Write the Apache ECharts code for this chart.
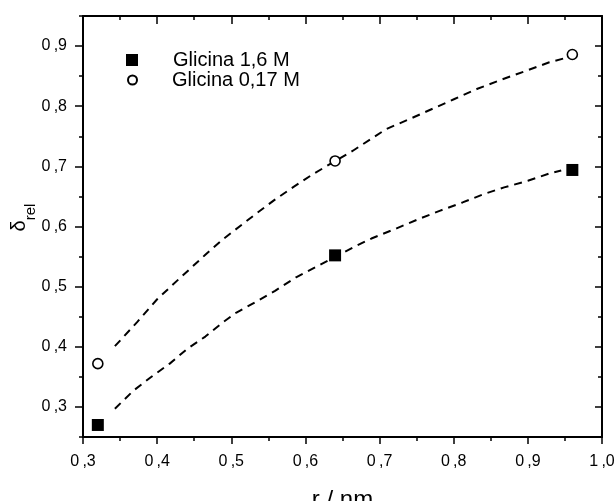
<!DOCTYPE html>
<html><head><meta charset="utf-8">
<script src="https://cdn.jsdelivr.net/npm/echarts@6/dist/echarts.min.js"></script>
<style>html,body{margin:0;padding:0;background:#fff}#c{width:616px;height:501px}</style>
</head><body><div id="c"></div>
<script>
// tick values
const xMajor = [0.3, 0.4, 0.5, 0.6, 0.7, 0.8, 0.9, 1.0];
const xMinor = [0.35, 0.45, 0.55, 0.65, 0.75, 0.85, 0.95];
const yMajor = [0.3, 0.4, 0.5, 0.6, 0.7, 0.8, 0.9];
const yMinor = [0.25, 0.35, 0.45, 0.55, 0.65, 0.75, 0.85, 0.95];

// measured points
const seriesNames = ['Glicina 1,6 M', 'Glicina 0,17 M'];
const rHigh = [0.32, 0.64, 0.96];
const deltaHigh = [0.270, 0.552, 0.694];
const rLow = [0.32, 0.64, 0.96];
const deltaLow = [0.372, 0.709, 0.886];

// fitted (dashed) curves
const fitHighR = [0.343, 0.368, 0.391, 0.417, 0.440, 0.465, 0.489, 0.507, 0.532, 0.559, 0.588, 0.613, 0.669, 0.689, 0.723, 0.752, 0.781, 0.812, 0.841, 0.868, 0.900, 0.931, 0.945];
const fitHighDelta = [0.297, 0.327, 0.349, 0.372, 0.396, 0.417, 0.441, 0.457, 0.474, 0.493, 0.516, 0.532, 0.568, 0.580, 0.597, 0.612, 0.626, 0.640, 0.654, 0.665, 0.676, 0.689, 0.693];
const fitLowR = [0.343, 0.373, 0.400, 0.427, 0.465, 0.489, 0.530, 0.557, 0.583, 0.610, 0.664, 0.709, 0.741, 0.772, 0.801, 0.832, 0.864, 0.898, 0.929, 0.950];
const fitLowDelta = [0.401, 0.441, 0.479, 0.510, 0.553, 0.579, 0.618, 0.643, 0.665, 0.687, 0.726, 0.762, 0.779, 0.796, 0.812, 0.829, 0.844, 0.859, 0.873, 0.880];

const zip = (a, b) => a.map((v, i) => [v, b[i]]);
const FONT = '"Liberation Sans", Arial, sans-serif';
const fmt = v => v.toFixed(1).replace('.', '\u2009,');
const black = '#000';

function axisBase(extra) {
  return Object.assign({
    type: 'value', splitLine: { show: false },
    axisLine: { show: false, onZero: false, lineStyle: { color: black, width: 2 } },
    axisTick: { show: true, lineStyle: { color: black, width: 1.5 } },
    axisLabel: { show: false }
  }, extra);
}
const mainLine = { show: true, onZero: false, lineStyle: { color: black, width: 2 } };

const chart = echarts.init(document.getElementById('c'), null, { renderer: 'canvas' });
chart.setOption({
  animation: false,
  backgroundColor: '#fff',
  textStyle: { fontFamily: FONT },
  grid: { left: 83, right: 14, top: 16, bottom: 64, outerBoundsMode: 'none', containLabel: false },
  xAxis: [
    axisBase({ min: 0.3, max: 1.0, position: 'bottom', axisLine: mainLine,
      axisTick: { show: true, length: 7, customValues: xMajor, lineStyle: { color: black, width: 1.5 } },
      axisLabel: { show: true, customValues: xMajor, formatter: fmt, fontSize: 16, color: black, margin: 17, fontFamily: FONT },
      name: 'r / nm', nameLocation: 'middle', nameGap: 51, nameMoveOverlap: false,
      nameTextStyle: { fontSize: 24, color: black, fontFamily: FONT } }),
    axisBase({ min: 0.3, max: 1.0, position: 'bottom',
      axisTick: { show: true, length: 4, customValues: xMinor, lineStyle: { color: black, width: 1.5 } } }),
    axisBase({ min: 0.3, max: 1.0, position: 'top', axisLine: mainLine,
      axisTick: { show: true, inside: true, length: 8, customValues: xMajor, lineStyle: { color: black, width: 1.5 } } }),
    axisBase({ min: 0.3, max: 1.0, position: 'top',
      axisTick: { show: true, inside: true, length: 4, customValues: xMinor, lineStyle: { color: black, width: 1.5 } } })
  ],
  yAxis: [
    axisBase({ min: 0.25, max: 0.95, position: 'left', axisLine: mainLine,
      axisTick: { show: true, length: 8, customValues: yMajor, lineStyle: { color: black, width: 1.5 } },
      axisLabel: { show: true, customValues: yMajor, formatter: fmt, fontSize: 16, color: black, margin: 16, fontFamily: FONT },
      name: '{d|δ}{s|rel}', nameLocation: 'middle', nameGap: 54, nameMoveOverlap: false,
      nameTextStyle: { color: black, fontFamily: FONT, padding: [0, 0, 0, 18],
        rich: { d: { fontSize: 20, color: black, fontFamily: FONT, verticalAlign: 'bottom' },
                s: { fontSize: 15, color: black, fontFamily: FONT, verticalAlign: 'bottom', padding: [0, 0, -9, 0] } } } }),
    axisBase({ min: 0.25, max: 0.95, position: 'left',
      axisTick: { show: true, length: 4, customValues: yMinor, lineStyle: { color: black, width: 1.5 } } }),
    axisBase({ min: 0.25, max: 0.95, position: 'right', axisLine: mainLine,
      axisTick: { show: true, inside: true, length: 7, customValues: yMajor, lineStyle: { color: black, width: 1.5 } } }),
    axisBase({ min: 0.25, max: 0.95, position: 'right',
      axisTick: { show: true, inside: true, length: 4, customValues: yMinor, lineStyle: { color: black, width: 1.5 } } })
  ],
  legend: [
    { data: [seriesNames[0]], orient: 'vertical', left: 126, top: 50, padding: 0,
      itemWidth: 12, itemHeight: 12,
      textStyle: { fontSize: 20, color: black, fontFamily: FONT, padding: [0, 0, 0, 30] } },
    { data: [seriesNames[1]], orient: 'vertical', left: 127, top: 70, padding: 0,
      itemWidth: 9, itemHeight: 9,
      textStyle: { fontSize: 20, color: black, fontFamily: FONT, padding: [0, 0, 0, 30] } }
  ],
  series: [
    { name: 'fit 1,6', type: 'line', data: zip(fitHighR, fitHighDelta), showSymbol: false, silent: true,
      lineStyle: { color: black, width: 2, type: [8, 6] }, z: 2 },
    { name: 'fit 0,17', type: 'line', data: zip(fitLowR, fitLowDelta), showSymbol: false, silent: true,
      lineStyle: { color: black, width: 2, type: [8, 6] }, z: 2 },
    { name: seriesNames[0], type: 'scatter', data: zip(rHigh, deltaHigh), symbol: 'rect', symbolSize: 12,
      itemStyle: { color: black, opacity: 1 }, z: 3 },
    { name: seriesNames[1], type: 'scatter', data: zip(rLow, deltaLow), symbol: 'circle', symbolSize: 10,
      itemStyle: { color: '#fff', borderColor: black, borderWidth: 1.6, opacity: 1 }, z: 3 }
  ]
});
</script></body></html>
